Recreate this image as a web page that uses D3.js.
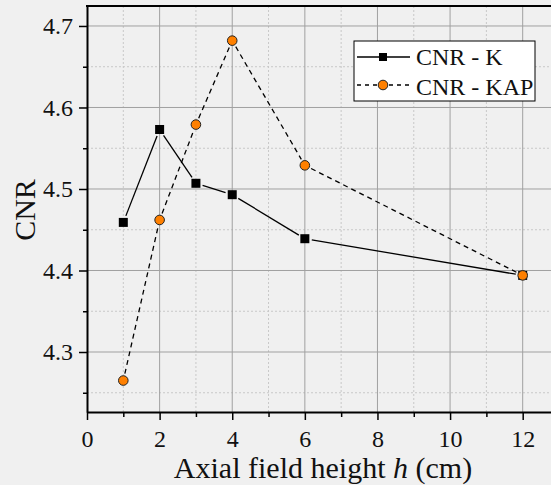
<!DOCTYPE html>
<html>
<head>
<meta charset="utf-8">
<script src="https://cdn.jsdelivr.net/npm/d3@7"></script>
<style>
  html, body { margin: 0; padding: 0; background: #f0f0f0; }
  svg { display: block; }
  svg text { font-family: "Liberation Serif", "Times New Roman", serif !important; fill: #111; }
  .tick text { font-size: 24px; }
</style>
</head>
<body>
<div id="chart"></div>
<script>
const W = 551, H = 485;
const LEFT = 87, TOP = 6, BOTTOM = 412, RIGHT = 559;

const heights = [1, 2, 3, 4, 6, 12];
const cnrK = [4.459, 4.573, 4.507, 4.493, 4.439, 4.394];
const cnrKAP = [4.265, 4.462, 4.579, 4.682, 4.529, 4.394];
const xTicks = [0, 2, 4, 6, 8, 10, 12];
const xMinor = [1, 3, 5, 7, 9, 11];
const yTicks = [4.3, 4.4, 4.5, 4.6, 4.7];
const yMinor = [4.25, 4.35, 4.45, 4.55, 4.65];

const ORANGE = "#ff8000";

const svg = d3.select("#chart").append("svg")
  .attr("width", W).attr("height", H);

const x = d3.scaleLinear().domain([0, 13]).range([LEFT, RIGHT]);
const y = d3.scaleLinear().domain([4.2264, 4.7245]).range([BOTTOM, TOP]);

// grid
const grid = svg.append("g");
grid.selectAll(".xmin").data(xMinor).enter().append("line")
  .attr("x1", d => x(d)).attr("x2", d => x(d)).attr("y1", TOP).attr("y2", BOTTOM)
  .attr("stroke", "#c8c8c8").attr("stroke-dasharray", "2,2");
grid.selectAll(".ymin").data(yMinor).enter().append("line")
  .attr("x1", LEFT).attr("x2", W).attr("y1", d => y(d)).attr("y2", d => y(d))
  .attr("stroke", "#c8c8c8").attr("stroke-dasharray", "2,2");
grid.selectAll(".xmaj").data(xTicks.slice(1)).enter().append("line")
  .attr("x1", d => x(d)).attr("x2", d => x(d)).attr("y1", TOP).attr("y2", BOTTOM)
  .attr("stroke", "#a0a0a0");
grid.selectAll(".ymaj").data(yTicks).enter().append("line")
  .attr("x1", LEFT).attr("x2", W).attr("y1", d => y(d)).attr("y2", d => y(d))
  .attr("stroke", "#a0a0a0");

// axes
const xAxis = d3.axisBottom(x).tickValues(xTicks).tickSize(8).tickSizeOuter(0).tickPadding(10);
const gx = svg.append("g").attr("transform", "translate(0," + BOTTOM + ")").call(xAxis);
gx.attr("font-size", null).attr("font-family", null);
gx.selectAll(".tick line").attr("stroke-width", 1.5);
gx.select(".domain").attr("stroke-width", 2);
svg.append("g").attr("transform", "translate(0," + BOTTOM + ")")
  .call(d3.axisBottom(x).tickValues(xMinor).tickSize(5).tickFormat(""))
  .call(g => g.select(".domain").remove())
  .selectAll("line").attr("stroke-width", 1.5);

const yAxis = d3.axisLeft(y).tickValues(yTicks).tickSize(8).tickSizeOuter(0).tickPadding(6)
  .tickFormat(d3.format(".1f"));
const gy = svg.append("g").attr("transform", "translate(" + LEFT + ",0)").call(yAxis);
gy.attr("font-size", null).attr("font-family", null);
gy.selectAll(".tick line").attr("stroke-width", 1.5);
gy.select(".domain").attr("stroke-width", 2);
svg.append("g").attr("transform", "translate(" + LEFT + ",0)")
  .call(d3.axisLeft(y).tickValues(yMinor).tickSize(4).tickFormat(""))
  .call(g => g.select(".domain").remove())
  .selectAll("line").attr("stroke-width", 1.5);

// top border
svg.append("line").attr("x1", LEFT - 1).attr("x2", W).attr("y1", TOP).attr("y2", TOP)
  .attr("stroke", "#000").attr("stroke-width", 2);

// labels
svg.append("text")
  .attr("transform", "translate(35,210) rotate(-90)")
  .attr("text-anchor", "middle").style("font-size", "30px")
  .text("CNR");
const xl = svg.append("text")
  .attr("x", 323).attr("y", 478).attr("text-anchor", "middle")
  .style("font-size", "30px");
xl.append("tspan").text("Axial field height ");
xl.append("tspan").attr("font-style", "italic").text("h");
xl.append("tspan").text(" (cm)");

// lines with small gaps at markers
function drawSeries(vals, dash, gap) {
  const pts = heights.map((h, i) => [x(h), y(vals[i])]);
  for (let i = 0; i < pts.length - 1; i++) {
    const [x1, y1] = pts[i], [x2, y2] = pts[i + 1];
    const dx = x2 - x1, dy = y2 - y1, len = Math.hypot(dx, dy);
    const ux = dx / len, uy = dy / len;
    svg.append("line")
      .attr("x1", x1 + ux * gap).attr("y1", y1 + uy * gap)
      .attr("x2", x2 - ux * gap).attr("y2", y2 - uy * gap)
      .attr("stroke", "#000").attr("stroke-width", 1.3)
      .attr("stroke-dasharray", dash);
  }
}
drawSeries(cnrK, null, 7);
drawSeries(cnrKAP, "5,4", 7);

svg.selectAll(".sq").data(heights).enter().append("rect")
  .attr("x", (d) => x(d) - 4.5).attr("y", (d, i) => y(cnrK[i]) - 4.5)
  .attr("width", 9).attr("height", 9).attr("fill", "#000");
svg.selectAll(".ci").data(heights).enter().append("circle")
  .attr("cx", d => x(d)).attr("cy", (d, i) => y(cnrKAP[i])).attr("r", 4.8)
  .attr("fill", ORANGE).attr("stroke", "#222").attr("stroke-width", 1);

// legend
const lg = svg.append("g").attr("transform", "translate(354,41)");
lg.append("rect").attr("width", 181).attr("height", 60)
  .attr("fill", "#fff").attr("stroke", "#000").attr("stroke-width", 1);
lg.append("line").attr("x1", 3).attr("x2", 56).attr("y1", 16).attr("y2", 16)
  .attr("stroke", "#000").attr("stroke-width", 1.3);
lg.append("rect").attr("x", 25).attr("y", 12).attr("width", 8).attr("height", 8).attr("fill", "#000");
lg.append("line").attr("x1", 3).attr("x2", 56).attr("y1", 44).attr("y2", 44)
  .attr("stroke", "#000").attr("stroke-width", 1.3).attr("stroke-dasharray", "4,4");
lg.append("circle").attr("cx", 29).attr("cy", 44).attr("r", 4.8)
  .attr("fill", ORANGE).attr("stroke", "#222");
lg.append("text").attr("x", 62).attr("y", 24).style("font-size", "24px").text("CNR - K");
lg.append("text").attr("x", 62).attr("y", 54).style("font-size", "24px").text("CNR - KAP");
</script>
</body>
</html>
